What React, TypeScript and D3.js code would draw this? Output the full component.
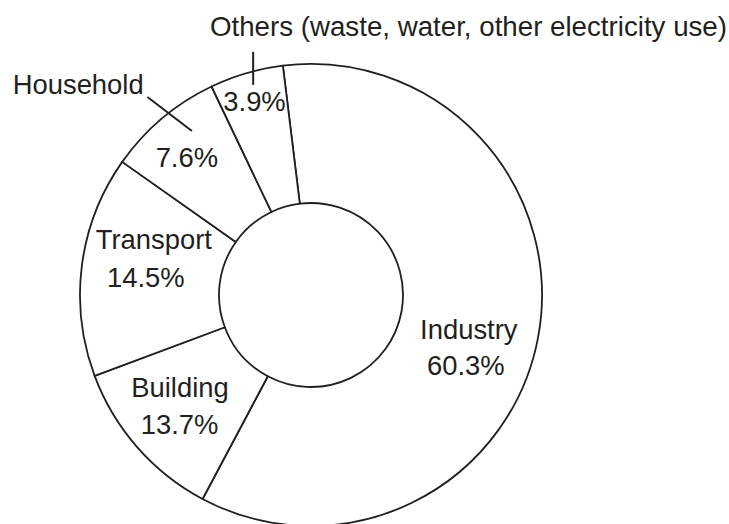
import React from "react";
import * as d3 from "d3";

// Slice order clockwise from the top (Industry starts just left of 12 o'clock)
const categories = ["Industry", "Building", "Transport", "Household", "Others"];
// Slice sizes as drawn in the picture (angular share, %)
const sliceShares = [59.72, 11.53, 15.47, 8.14, 5.14];
// Percentages printed on the chart
const shareLabels = [60.3, 13.7, 14.5, 7.6, 3.9];
const othersTitle = "Others (waste, water, other electricity use)";

const W = 729;
const H = 524;
const CX = 311;
const CY = 295;
const R_OUT = 231;
const R_IN = 92;
const START_DEG = -7;
const FONT = "'Liberation Sans', Arial, Helvetica, sans-serif";
const FS = 27.4;
const INK = "#231f20";

// label nudges relative to each slice centroid: [dx, dy] to text centre / baseline
const labelNudges: { name: number[] | null; pct: number[] }[] = [
  { name: [-1, 15], pct: [-4, 50.6] },
  { name: [-9.6, -4.5], pct: [-10, 32.5] },
  { name: [3, -25], pct: [-5, 13] },
  { name: null, pct: [-20, -4.6] },
  { name: null, pct: [-11.3, -29.3] },
];

const rad = (d: number) => (d * Math.PI) / 180;
const polar = (deg: number, r: number) => [r * Math.sin(rad(deg)), -r * Math.cos(rad(deg))];

export default function App() {
  const data = categories.map((c, i) => ({ name: c, share: sliceShares[i], label: shareLabels[i] }));
  const pie = d3
    .pie<any>()
    .sort(null)
    .value((d) => d.share)
    .startAngle(rad(START_DEG))
    .endAngle(rad(START_DEG) + 2 * Math.PI);
  const arcs = pie(data);
  const arc = d3.arc<any>().innerRadius(R_IN).outerRadius(R_OUT);

  // leader ticks crossing the outer rim for the external labels
  const hhCross = polar(322.2, R_OUT);
  const hhLeader = [
    [hhCross[0] - 22, hhCross[1] - 15.5],
    [hhCross[0] + 22.5, hhCross[1] + 18.5],
  ];
  const otCross = polar(345.5, R_OUT);
  const otLeader = [
    [otCross[0], otCross[1] - 19.5],
    [otCross[0], otCross[1] + 13.5],
  ];

  return (
    <svg
      width={W}
      height={H}
      style={{ position: "absolute", left: 0, top: 0, background: "#fff" }}
      fontFamily={FONT}
    >
      <rect width={W} height={H} fill="#fff" />
      <g transform={`translate(${CX},${CY})`}>
        {arcs.map((a, i) => (
          <path key={i} d={arc(a) || ""} fill="#fff" stroke={INK} strokeWidth={1.8} strokeLinejoin="round" />
        ))}
        {arcs.map((a, i) => {
          const [x, y] = arc.centroid(a);
          const n = labelNudges[i];
          return (
            <g key={"l" + i} fill={INK} fontSize={FS} textAnchor="middle">
              {n.name && (
                <text x={x + n.name[0]} y={y + n.name[1]}>
                  {a.data.name}
                </text>
              )}
              <text x={x + n.pct[0]} y={y + n.pct[1]}>
                {`${a.data.label}%`}
              </text>
            </g>
          );
        })}
        <line
          x1={hhLeader[0][0]}
          y1={hhLeader[0][1]}
          x2={hhLeader[1][0]}
          y2={hhLeader[1][1]}
          stroke={INK}
          strokeWidth={2}
        />
        <line
          x1={otLeader[0][0]}
          y1={otLeader[0][1]}
          x2={otLeader[1][0]}
          y2={otLeader[1][1]}
          stroke={INK}
          strokeWidth={2}
        />
      </g>
      <text x={12.7} y={94} fontSize={FS} fill={INK}>
        {categories[3]}
      </text>
      <text x={727} y={36} fontSize={27.7} fill={INK} textAnchor="end">
        {othersTitle}
      </text>
    </svg>
  );
}
